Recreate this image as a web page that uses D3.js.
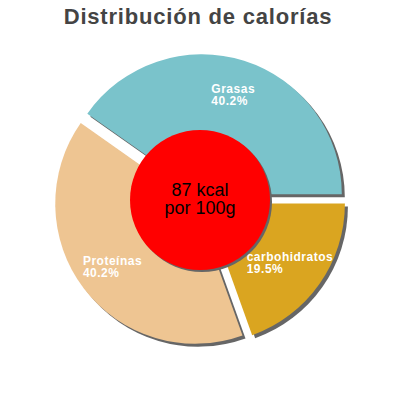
<!DOCTYPE html>
<html>
<head>
<meta charset="utf-8">
<script src="https://cdn.jsdelivr.net/npm/d3@7"></script>
<style>
  body { margin: 0; background: #fff; }
  svg { display: block; font-family: "Liberation Sans", Arial, sans-serif; }
</style>
</head>
<body>
<script>
// data, in the order the slices are drawn (clockwise from 3 o'clock)
const categories = ["carbohidratos", "Proteínas", "Grasas"];
const values = [19.5, 40.2, 40.2];
const colours = ["#daa520", "#eec592", "#7ac3cb"];
const title = "Distribución de calorías";
const centerLines = ["87 kcal", "por 100g"];

const width = 400, height = 400;
var cx = 200, cy = 200, radius = 140, hole = 70, explode = 6;

const svg = d3.select('body').append('svg')
  .attr('width', width)
  .attr('height', height);

svg.append('text')
  .attr('x', 198).attr('y', 24)
  .attr('text-anchor', 'middle')
  .attr('font-size', 22).attr('font-weight', 'bold')
  .attr('letter-spacing', 0.8)
  .attr('fill', '#444')
  .text(title);

const pie = d3.pie().sort(null)
  .startAngle(Math.PI / 2)
  .endAngle(Math.PI / 2 + 2 * Math.PI);
const arcs = pie(values);

const arc = d3.arc().innerRadius(0).outerRadius(radius);
const labelArc = d3.arc().innerRadius(104).outerRadius(104);

// push a slice out along its middle angle
function offset(d, r)
{
  const a = (d.startAngle + d.endAngle) / 2;
  return [r * Math.sin(a), -r * Math.cos(a)];
}

const g = svg.append('g').attr('transform', `translate(${cx},${cy})`);

// shadows first
g.selectAll('path.shadow')
  .data(arcs)
  .join('path')
  .attr('class', 'shadow')
  .attr('d', arc)
  .attr('fill', '#666')
  .attr('transform', d => { const o = offset(d, explode); return `translate(${o[0] + 3},${o[1] + 3})`; });

g.selectAll('path.slice')
  .data(arcs)
  .join('path')
  .attr('class', 'slice')
  .attr('d', arc)
  .attr('fill', (d, i) => colours[i])
  .attr('transform', d => { const o = offset(d, explode); return `translate(${o[0]},${o[1]})`; });

// centre disc
g.append('circle').attr('cx', 2).attr('cy', 2).attr('r', hole).attr('fill', '#666');
g.append('circle').attr('r', hole).attr('fill', '#ff0000');

const centre = g.append('text')
  .attr('text-anchor', 'middle')
  .attr('font-size', 18)
  .attr('fill', '#000');
centerLines.forEach((t, i) => {
  centre.append('tspan').attr('x', 0).attr('y', -4 + i * 18).text(t);
});

// labels: two left-aligned lines, block centred on the label point
arcs.forEach((d, i) => {
  const c = labelArc.centroid(d);
  const o = offset(d, explode);
  const t = g.append('text')
    .attr('font-size', 12).attr('font-weight', 'bold')
    .attr('letter-spacing', 0.5)
    .attr('fill', '#fff');
  t.append('tspan').attr('x', 0).attr('y', 0).text(categories[i]);
  t.append('tspan').attr('x', 0).attr('y', 12).text(values[i].toFixed(1) + '%');
  const bb = t.node().getBBox();
  t.attr('transform', `translate(${c[0] + o[0] - bb.x - bb.width / 2},${c[1] + o[1] - bb.y - bb.height / 2})`);
});
</script>
</body>
</html>
